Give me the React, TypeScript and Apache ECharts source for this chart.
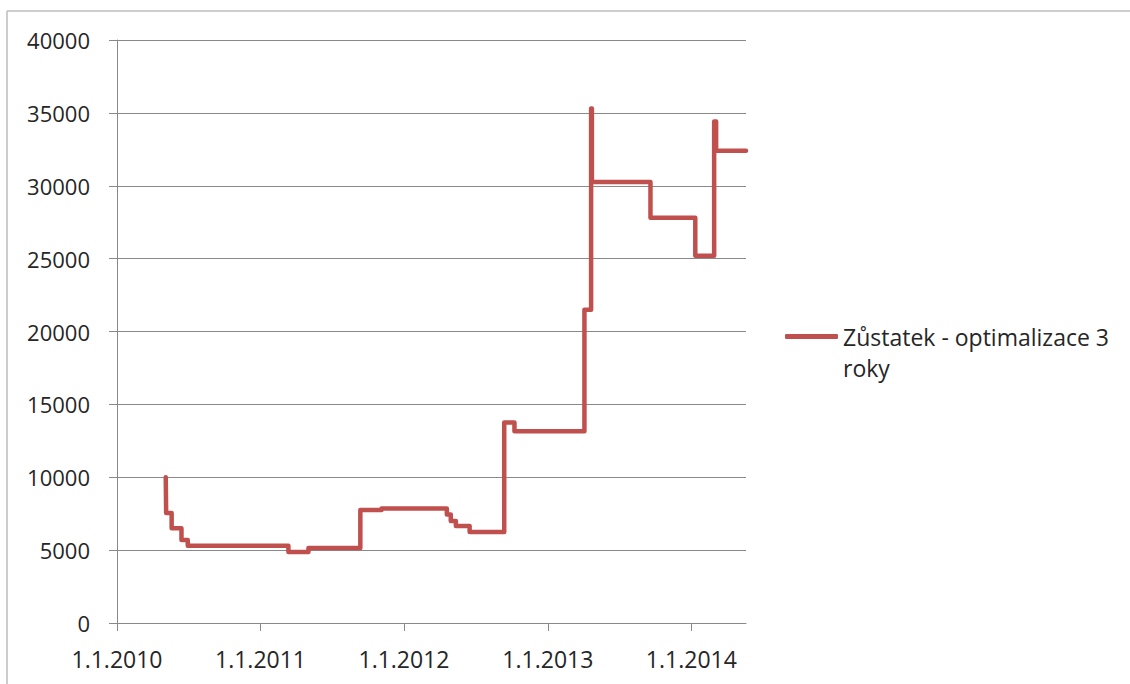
import React, { useEffect, useRef } from "react";
import * as echarts from "echarts";

const seriesName = "Zůstatek - optimalizace 3 roky";
const changeDates = [
  "2010-05-05", "2010-05-06", "2010-05-20", "2010-06-14", "2010-06-30",
  "2011-03-13", "2011-05-03", "2011-09-12", "2011-11-05",
  "2012-04-19", "2012-04-29", "2012-05-12", "2012-06-16", "2012-09-12", "2012-10-08",
  "2013-04-04", "2013-04-21", "2013-04-23", "2013-09-19",
  "2014-01-11", "2014-02-28", "2014-03-05", "2014-05-20",
];
const balances = [
  10000, 7550, 6500, 5700, 5300,
  4870, 5140, 7750, 7850,
  7450, 7000, 6650, 6250, 13750, 13150,
  21500, 35300, 30250, 27800,
  25200, 34400, 32400, 32400,
];
const xTickDates = ["2010-01-01", "2011-01-01", "2012-01-01", "2013-01-01", "2014-01-01"];
const xAxisEnd = "2014-05-20";
const yMin = 0;
const yMax = 40000;
const yStep = 5000;

const ORIGIN = Date.UTC(2010, 0, 1);
const toDay = (s: string) => {
  const [y, m, d] = s.split("-").map(Number);
  return Math.round((Date.UTC(y, m - 1, d) - ORIGIN) / 86400000);
};
const fromDay = (n: number) => {
  const dt = new Date(ORIGIN + n * 86400000);
  return `${dt.getUTCDate()}.${dt.getUTCMonth() + 1}.${dt.getUTCFullYear()}`;
};

export default function App() {
  const ref = useRef<HTMLDivElement>(null);
  useEffect(() => {
    if (!ref.current) return;
    const chart = echarts.init(ref.current, null, { renderer: "svg" });
    const font = "'Open Sans', sans-serif";
    const textColor = "#262626";
    const gridColor = "#898989";
    const tickDays = xTickDates.map(toDay);
    chart.setOption({
      animation: false,
      backgroundColor: "#ffffff",
      textStyle: { fontFamily: font },
      grid: { left: 117, top: 40, right: 384, bottom: 61, containLabel: false },
      legend: {
        left: 785,
        top: 290,
        padding: 0,
        icon: "roundRect",
        itemWidth: 53,
        itemHeight: 5,
        data: [seriesName],
        formatter: () => "\nZůstatek - optimalizace 3\nroky",
        textStyle: { fontFamily: font, fontSize: 23, color: textColor, lineHeight: 31 },
      },
      xAxis: {
        type: "value",
        min: 0,
        max: toDay(xAxisEnd),
        axisLine: { show: true, lineStyle: { color: gridColor, width: 1 } },
        axisTick: { show: true, length: 8, lineStyle: { color: gridColor }, customValues: tickDays },
        axisLabel: {
          customValues: tickDays,
          formatter: (v: number) => fromDay(v),
          fontFamily: font,
          fontSize: 23,
          color: textColor,
          margin: 24,
        },
        splitLine: { show: false },
      },
      yAxis: {
        type: "value",
        min: yMin,
        max: yMax,
        interval: yStep,
        axisLine: { show: true, lineStyle: { color: gridColor, width: 1 } },
        axisTick: { show: true, length: 8, lineStyle: { color: gridColor } },
        axisLabel: {
          fontFamily: font,
          fontSize: 22,
          color: textColor,
          margin: 27,
          formatter: (v: number) => String(v),
        },
        splitLine: { show: true, lineStyle: { color: gridColor, width: 1 } },
      },
      graphic: [
        { type: "line", shape: { x1: 7, y1: 11, x2: 1130, y2: 11 }, style: { stroke: "#bdbdbd", lineWidth: 1.5 } },
        { type: "line", shape: { x1: 7, y1: 11, x2: 7, y2: 684 }, style: { stroke: "#bdbdbd", lineWidth: 1.5 } },
      ],
      series: [
        {
          name: seriesName,
          type: "line",
          step: "end",
          symbol: "none",
          data: changeDates.map((d, i) => [toDay(d), balances[i]]),
          lineStyle: { color: "#C0504D", width: 4.5, cap: "round", join: "round" },
          itemStyle: { color: "#C0504D" },
        },
      ],
    });
    return () => chart.dispose();
  }, []);
  return (
    <div
      ref={ref}
      style={{ position: "fixed", left: 0, top: 0, width: 1130, height: 684 }}
    />
  );
}
